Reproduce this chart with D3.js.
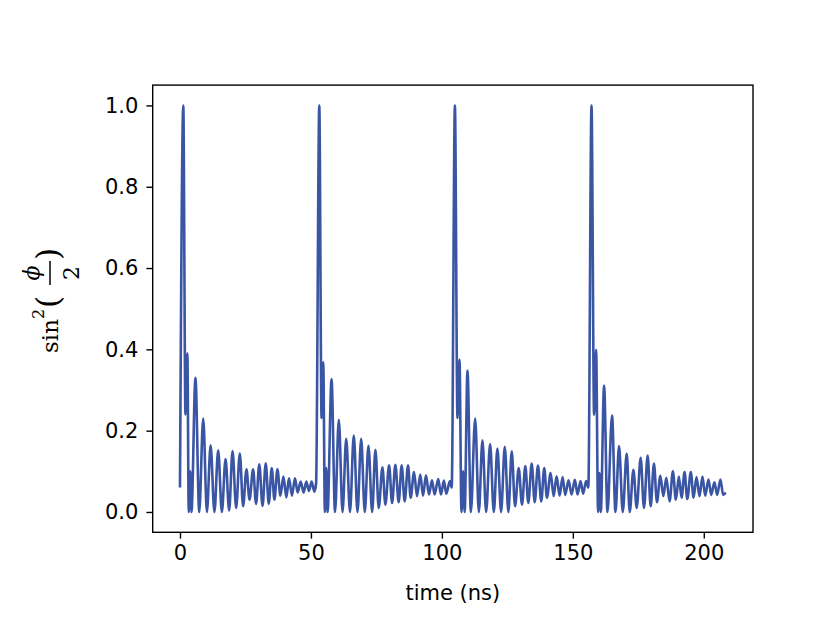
<!DOCTYPE html>
<html>
<head>
<meta charset="utf-8">
<script src="https://cdn.jsdelivr.net/npm/d3@7"></script>
<style>
  body { margin: 0; background: #fff; }
  svg { display: block; }
</style>
</head>
<body>
<script>
// extrema, [time (ns), sin^2(phi/2)], one array per pulse
var pulse1 = [
  [0, 0.06], [1.26, 1.0], [2.09, 0.24], [2.82, 0.39], [3.35, 0.0], [3.92, 0.10],
  [4.38, 0.0], [5.90, 0.33], [7.35, 0.0], [8.87, 0.23], [10.28, 0.0], [11.69, 0.164],
  [13.14, 0.0], [14.58, 0.152], [15.99, 0.0], [17.40, 0.13], [18.77, 0.004], [20.06, 0.15],
  [21.44, 0.01], [22.84, 0.144], [24.10, 0.014], [25.39, 0.105], [26.54, 0.03], [27.91, 0.105],
  [29.05, 0.02], [30.27, 0.117], [31.52, 0.015], [32.74, 0.12], [33.89, 0.02], [35.03, 0.108],
  [36.06, 0.03], [37.20, 0.105], [38.34, 0.04], [39.48, 0.087], [40.62, 0.036], [41.61, 0.083],
  [42.76, 0.04], [43.90, 0.083], [44.93, 0.048], [46.07, 0.075], [47.21, 0.048], [48.24, 0.075],
  [49.23, 0.052], [50.26, 0.075], [51.28, 0.05], [51.97, 0.07]
];
var pulse2 = [
  [53.19, 1.0], [54.06, 0.231], [54.71, 0.368], [55.32, 0.0], [55.85, 0.108], [56.35, 0.0],
  [57.87, 0.327], [59.20, 0.0], [60.65, 0.227], [62.06, 0.0], [63.47, 0.18], [64.91, 0.0],
  [66.36, 0.188], [67.77, 0.0], [69.18, 0.18], [70.55, 0.0], [71.96, 0.163], [73.37, 0.0],
  [74.62, 0.153], [75.88, 0.01], [77.29, 0.11], [78.43, 0.018], [79.84, 0.115], [80.98, 0.022],
  [82.24, 0.116], [83.50, 0.024], [84.64, 0.115], [85.78, 0.026], [87.08, 0.115], [88.07, 0.035],
  [89.36, 0.098], [90.50, 0.039], [91.76, 0.092], [92.79, 0.04], [93.93, 0.09], [95.07, 0.043],
  [96.21, 0.078], [97.20, 0.043], [98.61, 0.081], [99.64, 0.043], [100.78, 0.077], [101.66, 0.045],
  [103.07, 0.076], [103.75, 0.06]
];
var pulse3 = [
  [104.97, 1.0], [105.96, 0.231], [106.72, 0.375], [107.48, 0.0], [108.13, 0.10], [108.70, 0.0],
  [109.77, 0.348], [111.06, 0.0], [112.70, 0.23], [114.11, 0.0], [115.48, 0.176], [116.89, 0.0],
  [118.41, 0.167], [119.82, 0.0], [121.19, 0.156], [122.60, 0.0], [124.01, 0.16], [125.38, 0.0],
  [126.67, 0.149], [127.93, 0.014], [129.33, 0.108], [130.59, 0.018], [131.85, 0.113], [132.99, 0.022],
  [134.29, 0.119], [135.43, 0.024], [136.68, 0.114], [137.94, 0.026], [139.08, 0.108], [140.11, 0.035],
  [141.52, 0.096], [142.66, 0.039], [143.80, 0.088], [144.95, 0.04], [146.09, 0.086], [147.08, 0.042],
  [148.37, 0.078], [149.51, 0.043], [150.77, 0.079], [151.80, 0.043], [152.94, 0.076], [153.93, 0.045],
  [155.07, 0.076], [155.91, 0.06]
];
var pulse4 = [
  [157.13, 1.0], [158.12, 0.239], [158.88, 0.399], [159.64, 0.0], [160.17, 0.096], [160.67, 0.0],
  [161.93, 0.311], [163.22, 0.0], [164.97, 0.237], [166.27, 0.0], [167.64, 0.162], [169.05, 0.0],
  [170.57, 0.144], [171.71, 0.0], [173.12, 0.104], [174.38, 0.01], [175.90, 0.133], [177.16, 0.01],
  [178.57, 0.139], [179.71, 0.014], [180.97, 0.119], [182.11, 0.024], [183.41, 0.089], [184.55, 0.039],
  [185.69, 0.084], [186.94, 0.026], [188.20, 0.10], [189.34, 0.03], [190.48, 0.087], [191.51, 0.035],
  [192.65, 0.098], [193.68, 0.032], [195.05, 0.098], [196.08, 0.035], [197.22, 0.086], [198.36, 0.039],
  [199.50, 0.087], [200.53, 0.04], [201.79, 0.08], [202.82, 0.042], [204.07, 0.073], [205.10, 0.042],
  [206.36, 0.08], [207.38, 0.042], [208.37, 0.048]
];
var xTicks = [0, 50, 100, 150, 200];
var yTicks = [0.0, 0.2, 0.4, 0.6, 0.8, 1.0];

var W = 830, H = 623;
var plotL = 152.7, plotR = 753, plotT = 85.1, plotB = 532.3;
var lineColor = "#3b55a5";

var data = pulse1.concat(pulse2, pulse3, pulse4);

var svg = d3.select("body").append("svg")
    .attr("width", W)
    .attr("height", H);

// matplotlib style 5% margins
var xe = d3.extent(data, function(d) { return d[0]; });
var ye = d3.extent(data, function(d) { return d[1]; });
var xm = (xe[1] - xe[0]) * 0.05, ym = (ye[1] - ye[0]) * 0.05;

var x = d3.scaleLinear().domain([xe[0] - xm, xe[1] + xm]).range([plotL, plotR]);
var y = d3.scaleLinear().domain([ye[0] - ym, ye[1] + ym]).range([plotB, plotT]);

var line = d3.line()
    .x(function(d) { return x(d[0]); })
    .y(function(d) { return y(d[1]); })
    .curve(d3.curveMonotoneX);

svg.append("path")
    .datum(data)
    .attr("d", line)
    .attr("fill", "none")
    .attr("stroke", lineColor)
    .attr("stroke-width", 2.6)
    .attr("stroke-linejoin", "round");

// axes
var xAxis = svg.append("g")
    .attr("transform", "translate(0," + plotB + ")")
    .call(d3.axisBottom(x).tickValues(xTicks).tickSize(6.3).tickPadding(6)
        .tickFormat(d3.format("d")));
var yAxis = svg.append("g")
    .attr("transform", "translate(" + plotL + ",0)")
    .call(d3.axisLeft(y).tickValues(yTicks).tickSize(6.3).tickPadding(8)
        .tickFormat(d3.format(".1f")));

[xAxis, yAxis].forEach(function(a) {
    a.select(".domain").remove();
    a.selectAll("line").attr("stroke", "#000").attr("stroke-width", 1.4);
    a.selectAll("text")
        .attr("fill", "#000")
        .style("font-family", "DejaVu Sans")
        .style("font-size", "21px");
});

svg.append("rect")
    .attr("x", plotL)
    .attr("y", plotT)
    .attr("width", plotR - plotL)
    .attr("height", plotB - plotT)
    .attr("fill", "none")
    .attr("stroke", "#000")
    .attr("stroke-width", 1.4);

svg.append("text")
    .attr("x", (plotL + plotR) / 2)
    .attr("y", 600)
    .attr("text-anchor", "middle")
    .style("font-family", "DejaVu Sans")
    .style("font-size", "21px")
    .text("time (ns)");

// y label: sin^2(phi/2), built piece by piece
var yl = svg.append("g")
    .attr("transform", "translate(58,353) rotate(-90)")
    .style("font-family", "DejaVu Serif")
    .attr("fill", "#000");
yl.append("text").attr("x", 0).attr("y", 0).style("font-size", "23px").text("sin");
yl.append("text").attr("x", 34).attr("y", -14).style("font-size", "16px").text("2");
yl.append("text").attr("x", 45).attr("y", 1).style("font-size", "31px").text("(");
yl.append("text").attr("x", 80).attr("y", -19).attr("text-anchor", "middle")
    .style("font-size", "22px").style("font-style", "italic").text("\u03d5");
yl.append("line").attr("x1", 68).attr("x2", 92).attr("y1", -8).attr("y2", -8)
    .attr("stroke", "#000").attr("stroke-width", 1.5);
yl.append("text").attr("x", 80).attr("y", 21).attr("text-anchor", "middle")
    .style("font-size", "22px").text("2");
yl.append("text").attr("x", 93).attr("y", 1).style("font-size", "31px").text(")");
</script>
</body>
</html>
